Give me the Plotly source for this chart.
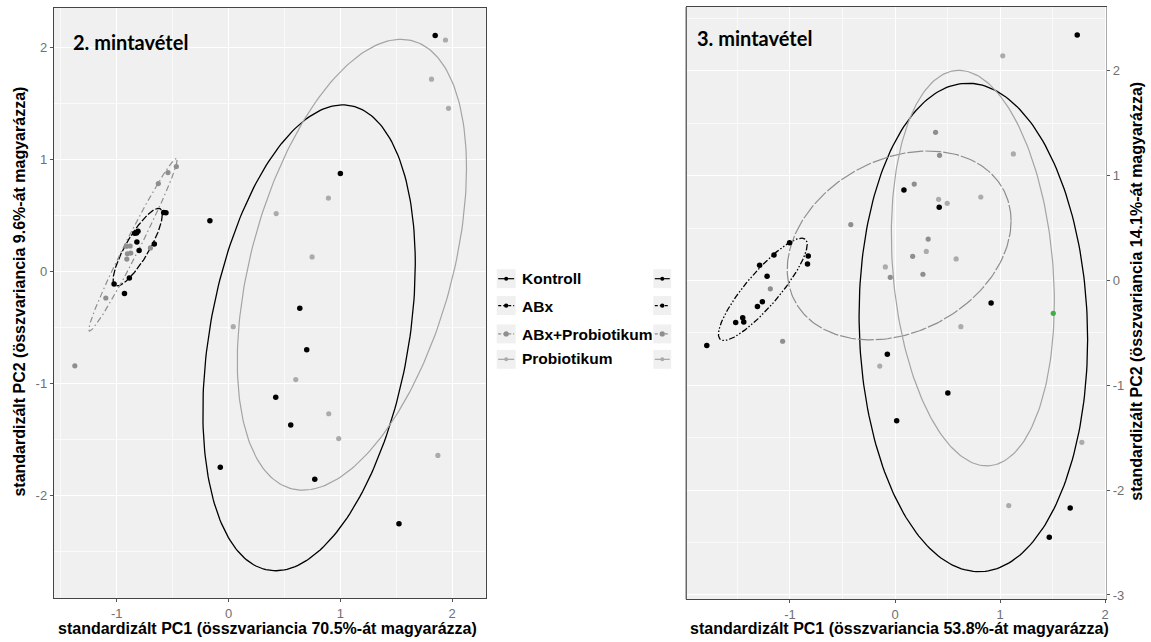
import numpy as np
import plotly.graph_objects as go

W, H = 1151, 642

groups = ["Kontroll", "ABx", "ABx+Probiotikum", "Probiotikum"]
point_colors = ["#000000", "#000000", "#8e8e8e", "#ababab"]
line_colors = ["#000000", "#000000", "#8e8e8e", "#a4a4a4"]

# tick labels (ggplot style hyphen minus)
p2_xticks = [-1, 0, 1, 2]
p2_xticktext = ["-1", "0", "1", "2"]
p2_yticks = [-2, -1, 0, 1, 2]
p2_yticktext = ["-2", "-1", "0", "1", "2"]
p3_xticks = [-1, 0, 1, 2]
p3_xticktext = ["-1", "0", "1", "2"]
p3_yticks = [-3, -2, -1, 0, 1, 2]
p3_yticktext = ["-3", "-2", "-1", "0", "1", "2"]

# ---------------- 2. mintavétel (left panel) ----------------
p2_x = {
    "Kontroll": [1.848, 1.0, -0.167, 0.637, 0.699, 0.422, 0.556, -0.074, 0.771, 1.524],
    "ABx": [-0.58, -0.56, -0.81, -0.823, -0.84, -0.82, -0.80, -0.664, -0.887, -1.024, -0.931],
    "ABx+Probiotikum": [-0.467, -0.542, -0.628, -0.699, -0.913, -0.88, -0.905, -0.875, -0.91, -1.098, -1.375],
    "Probiotikum": [1.94, 1.815, 1.967, 0.893, 0.426, 0.747, 0.042, 0.601, 0.896, 0.985, 1.872],
}
p2_y = {
    "Kontroll": [2.11, 0.877, 0.456, -0.326, -0.696, -1.12, -1.369, -1.745, -1.852, -2.25],
    "ABx": [0.53, 0.527, 0.362, 0.347, 0.344, 0.267, 0.19, 0.249, -0.056, -0.11, -0.193],
    "ABx+Probiotikum": [0.94, 0.886, 0.788, 0.213, 0.228, 0.23, 0.16, 0.166, 0.113, -0.234, -0.84],
    "Probiotikum": [2.07, 1.72, 1.46, 0.658, 0.52, 0.133, -0.49, -0.963, -1.268, -1.49, -1.64],
}
# ellipse: centre x, centre y, half-width, half-height, tilt (cos of phase)
p2_ell_cx = [0.72, -0.8125, -0.855, 1.103]
p2_ell_cy = [-0.59, 0.22, 0.2415, 0.063]
p2_ell_a = [0.95, 0.22, 0.395, 1.025]
p2_ell_b = [2.08, 0.347, 0.7715, 2.013]
p2_ell_c = [0.316, 0.84, 0.982, 0.428]
p2_dash = ["solid", "7px,2px", "6px,3px,1.5px,3px", "solid"]

# ---------------- 3. mintavétel (right panel) ----------------
p3_x = {
    "Kontroll": [1.735, 0.085, 0.421, 0.915, -0.073, 0.503, 0.016, 1.668, 1.469],
    "ABx": [-1.004, -1.152, -1.289, -0.826, -0.833, -1.218, -1.263, -1.31, -1.45, -1.44, -1.517, -1.792],
    "ABx+Probiotikum": [0.386, 0.424, 0.183, -0.421, 0.316, 0.168, -0.045, 0.266, -1.187, -1.07],
    "Probiotikum": [1.026, 1.127, 0.415, 0.497, 0.817, 0.298, 0.582, -0.092, 0.627, -0.145, 1.779, 1.083, 1.507],
}
p3_y = {
    "Kontroll": [2.343, 0.863, 0.699, -0.215, -0.702, -1.072, -1.338, -2.17, -2.448],
    "ABx": [0.361, 0.244, 0.145, 0.234, 0.158, 0.041, -0.202, -0.247, -0.354, -0.395, -0.401, -0.62],
    "ABx+Probiotikum": [1.414, 1.195, 0.92, 0.534, 0.396, 0.231, 0.031, 0.06, -0.079, -0.579],
    "Probiotikum": [2.144, 1.208, 0.775, 0.737, 0.797, 0.278, 0.206, 0.13, -0.44, -0.816, -1.543, -2.147, -0.313],
}
p3_prob_colors = ["#ababab"] * 12 + ["#3cb043"]
p3_ell_cx = [0.746, -1.2585, 0.0395, 0.741]
p3_ell_cy = [-0.4475, -0.0835, 0.335, 0.1185]
p3_ell_a = [1.088, 0.4225, 1.0655, 0.776]
p3_ell_b = [2.33, 0.4885, 0.901, 1.8865]
p3_ell_c = [-0.049, 0.875, 0.257, -0.171]
p3_dash = ["solid", "6px,2px,1.5px,2px,1.5px,2px", "16px,2px", "solid"]

xtitle2 = "standardizált PC1 (összvariancia 70.5%-át magyarázza)"
ytitle2 = "standardizált PC2 (összvariancia 9.6%-át magyarázza)"
xtitle3 = "standardizált PC1 (összvariancia 53.8%-át magyarázza)"
ytitle3 = "standardizált PC2 (összvariancia 14.1%-át magyarázza)"

fig = go.Figure()
t = np.linspace(0, 2 * np.pi, 241)


def add_panel(px, py, cx, cy, a, b, c, dashes, xa, ya, prob_colors=None):
    for i, g in enumerate(groups):
        phi = np.arccos(c[i])
        ex = cx[i] + a[i] * np.cos(t)
        ey = cy[i] + b[i] * np.cos(t + phi)
        fig.add_trace(go.Scatter(x=ex, y=ey, mode="lines", xaxis=xa, yaxis=ya,
                                 line=dict(color=line_colors[i], width=1.3 if i < 2 else 1.2,
                                           dash=dashes[i]),
                                 showlegend=False, hoverinfo="skip"))
    for i, g in enumerate(groups):
        col = point_colors[i]
        if g == "Probiotikum" and prob_colors is not None:
            col = prob_colors
        fig.add_trace(go.Scatter(x=px[g], y=py[g], mode="markers", xaxis=xa, yaxis=ya,
                                 marker=dict(color=col, size=5.5 if i < 2 else 5.2),
                                 name=g, showlegend=False))


add_panel(p2_x, p2_y, p2_ell_cx, p2_ell_cy, p2_ell_a, p2_ell_b, p2_ell_c, p2_dash, "x", "y")
add_panel(p3_x, p3_y, p3_ell_cx, p3_ell_cy, p3_ell_a, p3_ell_b, p3_ell_c, p3_dash, "x2", "y2",
          prob_colors=p3_prob_colors)

tickfont = dict(family="Liberation Sans, Arial", size=13, color="#707070")
common = dict(showgrid=True, gridcolor="white", gridwidth=1.1, zeroline=False,
              ticks="outside", ticklen=3, tickcolor="#555", tickfont=tickfont,
              minor=dict(dtick=0.5, tick0=0, showgrid=True, gridcolor="#fafafa", gridwidth=0.6, ticks=""))

fig.update_layout(
    width=W, height=H, margin=dict(l=0, r=0, t=0, b=0),
    paper_bgcolor="white", plot_bgcolor="#f0f0f0", showlegend=False,
    xaxis=dict(domain=[54 / W, 487 / W], range=[-1.5625, 2.30], anchor="y",
               tickvals=p2_xticks, ticktext=p2_xticktext,
               showline=True, mirror=True, linecolor="#444", linewidth=1.2, **common),
    yaxis=dict(domain=[1 - 601 / H, 1 - 8 / H], range=[-2.915, 2.356], anchor="x",
               tickvals=p2_yticks, ticktext=p2_yticktext,
               showline=True, mirror=True, linecolor="#444", linewidth=1.2, **common),
    xaxis2=dict(domain=[688 / W, 1109 / W], range=[-1.988, 2.01], anchor="y2",
                tickvals=p3_xticks, ticktext=p3_xticktext,
                showline=True, mirror=True, linecolor="#444", linewidth=1.2, **common),
    yaxis2=dict(domain=[1 - 602 / H, 1 - 7 / H], range=[-3.04, 2.61], anchor="x2", side="right",
                tickvals=p3_yticks, ticktext=p3_yticktext,
                showline=True, linecolor="#aaaaaa", linewidth=1.0, **common),
)

# left border of right panel (dark)
fig.add_shape(type="line", xref="x2 domain", yref="y2 domain", x0=0, x1=0, y0=0, y1=1,
              line=dict(color="#444", width=1.2))

titlefont = dict(family="Liberation Sans, Arial", size=16, color="black", weight="bold")
ann = [
    dict(text=xtitle2, x=268 / W, y=1 - 631 / H, xanchor="center", yanchor="middle"),
    dict(text=xtitle3, x=902 / W, y=1 - 631 / H, xanchor="center", yanchor="middle"),
    dict(text=ytitle2, x=20 / W, y=1 - 293 / H, xanchor="center", yanchor="middle", textangle=-90),
    dict(text=ytitle3, x=1140 / W, y=1 - 293 / H, xanchor="center", yanchor="middle", textangle=-90),
]
for a in ann:
    fig.add_annotation(xref="paper", yref="paper", showarrow=False, font=titlefont, **a)

panelfont = dict(family="Lato, Open Sans", size=20, color="black", weight="bold")
fig.add_annotation(text="2. mintavétel", xref="paper", yref="paper", x=71 / W, y=1 - 42 / H,
                   xanchor="left", yanchor="middle", showarrow=False, font=panelfont)
fig.add_annotation(text="3. mintavétel", xref="paper", yref="paper", x=697 / W, y=1 - 38 / H,
                   xanchor="left", yanchor="middle", showarrow=False, font=panelfont)

# ---------------- legend (two key columns, labels between) ----------------
leg_key_y = [280, 307, 335.5, 361]
leg_text_y = [280, 307.5, 336, 360]
leg_key_dash = ["solid", "3px,2px", "3px,2px", "solid"]
leg_dot_r = [2.0, 2.2, 2.6, 2.0]
legfont = dict(family="Liberation Sans, Arial", size=15.5, color="black", weight="bold")
for col_x0, col_x1 in [(498, 517), (655, 673)]:
    for i, g in enumerate(groups):
        yc = leg_key_y[i]
        fig.add_shape(type="rect", xref="paper", yref="paper",
                      x0=col_x0 / W, x1=col_x1 / W, y0=1 - (yc + 9.5) / H, y1=1 - (yc - 9.5) / H,
                      fillcolor="#f0f0f0", line=dict(width=0), layer="below")
        fig.add_shape(type="line", xref="paper", yref="paper",
                      x0=(col_x0 + 1.5) / W, x1=(col_x1 - 1.5) / W, y0=1 - yc / H, y1=1 - yc / H,
                      line=dict(color=line_colors[i], width=1.2, dash=leg_key_dash[i]))
        xm = (col_x0 + col_x1) / 2
        r = leg_dot_r[i]
        fig.add_shape(type="circle", xref="paper", yref="paper",
                      x0=(xm - r) / W, x1=(xm + r) / W, y0=1 - (yc + r) / H, y1=1 - (yc - r) / H,
                      fillcolor=point_colors[i], line=dict(width=0))
for i, g in enumerate(groups):
    fig.add_annotation(text=g, xref="paper", yref="paper", x=521 / W, y=1 - leg_text_y[i] / H,
                       xanchor="left", yanchor="middle", showarrow=False, font=legfont)

fig.write_html("out.html", config={"displayModeBar": False},
               post_script="document.body.style.margin='0';document.body.style.overflow='hidden';")
